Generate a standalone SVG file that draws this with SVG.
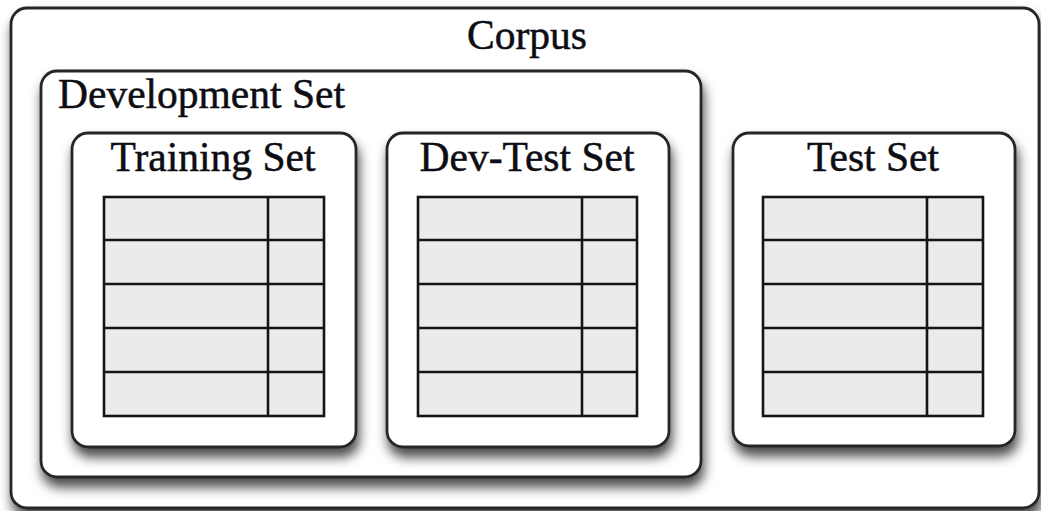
<svg xmlns="http://www.w3.org/2000/svg" width="1041" height="511" viewBox="0 0 1041 511">
<defs>
<filter id="sh" x="-10%" y="-10%" width="125%" height="130%">
<feDropShadow dx="2" dy="9" stdDeviation="6" flood-color="#000" flood-opacity="0.7"/>
</filter>
<style>
.box{fill:#fff;stroke:#262626;stroke-width:2.8;filter:url(#sh)}
.lbl{font-family:"Liberation Serif","Times New Roman",serif;font-size:41.5px;fill:#0d0d14;stroke:#0d0d14;stroke-width:0.5}
.tbl{fill:#ebebeb;stroke:#151515;stroke-width:2.6}
.ln{stroke:#151515;stroke-width:2.6;fill:none}
</style>
</defs>
<rect width="1041" height="511" fill="#fff"/>
<g id="corpus">
<rect class="box" x="11" y="8" width="1028" height="500" rx="16"/>
<text class="lbl" x="527" y="49" text-anchor="middle">Corpus</text>
</g>
<g id="development-set">
<rect class="box" x="41" y="71" width="660" height="406" rx="16"/>
<text class="lbl" x="58" y="108">Development Set</text>
</g>
<g id="training-set">
<rect class="box" x="72" y="133" width="284" height="314" rx="16"/>
<text class="lbl" x="213" y="171" text-anchor="middle">Training Set</text>
<rect class="tbl" x="104" y="197" width="220" height="219"/>
<path class="ln" d="M268 197V416M104 240H324M104 284H324M104 328H324M104 372H324"/>
</g>
<g id="dev-test-set">
<rect class="box" x="387" y="133" width="282" height="314" rx="16"/>
<text class="lbl" x="527" y="171" text-anchor="middle">Dev-Test Set</text>
<rect class="tbl" x="418" y="197" width="219" height="219"/>
<path class="ln" d="M582 197V416M418 240H637M418 284H637M418 328H637M418 372H637"/>
</g>
<g id="test-set">
<rect class="box" x="733" y="133" width="282" height="313" rx="16"/>
<text class="lbl" x="873" y="171" text-anchor="middle">Test Set</text>
<rect class="tbl" x="763" y="197" width="220" height="219"/>
<path class="ln" d="M927 197V416M763 240H983M763 284H983M763 328H983M763 372H983"/>
</g>
<g id="connectors"></g>
</svg>
